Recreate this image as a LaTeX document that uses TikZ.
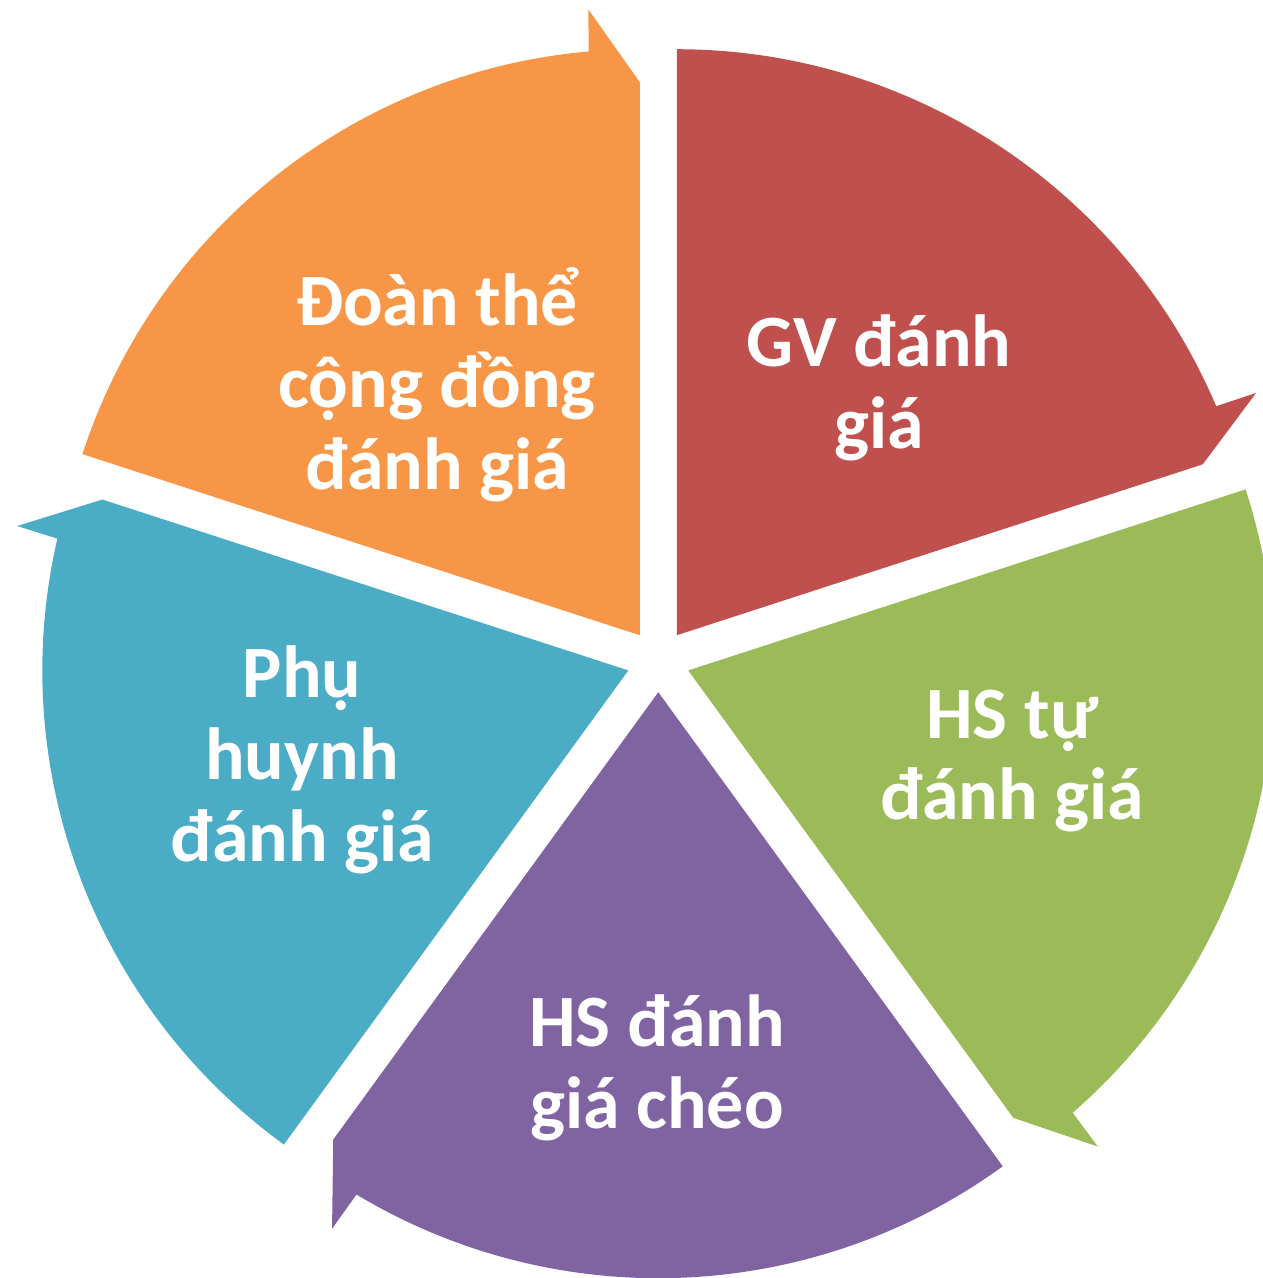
\documentclass[tikz,border=0pt]{standalone}
\usepackage{fontspec}
\setmainfont{Carlito}
\usepackage{xcolor}
\usepackage{tikz}
\definecolor{partred}{RGB}{192, 80, 77}
\definecolor{partorange}{RGB}{247, 150, 70}
\definecolor{partgreen}{RGB}{155, 187, 89}
\definecolor{partpurple}{RGB}{128, 100, 162}
\definecolor{partblue}{RGB}{75, 172, 198}
% one piece of the ring: colour, start angle, end angle (arrow at the end)
\newcommand{\cyclepart}[3]{%
    \begin{scope}[shift={(#2-36:0.315)}]
        \fill[#1] (0,0) -- (#2:5.86) arc[start angle=#2, end angle=#3+5, radius=5.86]
            -- (#3+4.7:6.28) -- (#3:5.53) -- cycle;
    \end{scope}}
\tikzset{
    partlabel/.style={text=white, align=center, inner sep=0pt,
        font=\fontsize{42}{46.5}\selectfont\bfseries}
}

\begin{document}
\begin{tikzpicture}[scale=2]
        \useasboundingbox (-6.583,-6.173) rectangle (6.047,6.607);
        \cyclepart{partred}{90}{18}
        \cyclepart{partgreen}{18}{-54}
        \cyclepart{partpurple}{-54}{-126}
        \cyclepart{partblue}{-126}{-198}
        \cyclepart{partorange}{162}{90}
        \node[partlabel] (gv) at (2.207,2.727) {GV đánh\\giá};
        \node[partlabel] (hstu) at (3.537,-1.003) {HS tự\\đánh giá};
        \node[partlabel] (hscheo) at (-0.013,-4.073) {HS đánh\\giá chéo};
        \node[partlabel] (phuhuynh) at (-3.563,-0.993) {Phụ\\huynh\\đánh giá};
        \node[partlabel] (doanthe) at (-2.213,2.757) {Đoàn thể\\cộng đồng\\đánh giá};
    \end{tikzpicture}
\end{document}
